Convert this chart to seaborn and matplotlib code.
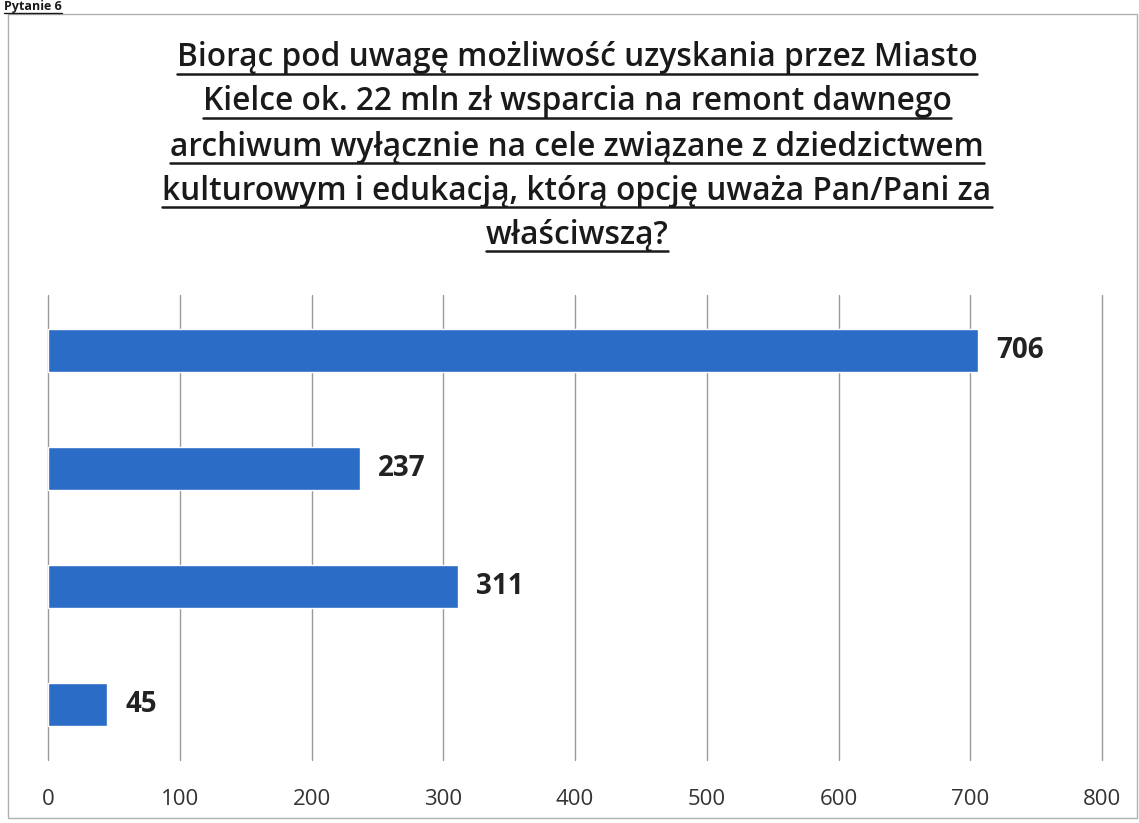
import matplotlib
matplotlib.use("Agg")
import matplotlib.pyplot as plt
import seaborn as sns
import pandas as pd
from matplotlib.lines import Line2D
from matplotlib.patches import Rectangle

categories = ["Opcja A", "Opcja B", "Opcja C", "Opcja D"]
values = [706, 237, 311, 45]
x_ticks = [0, 100, 200, 300, 400, 500, 600, 700, 800]
title_lines = [
    "Biorąc pod uwagę możliwość uzyskania przez Miasto",
    "Kielce ok. 22 mln zł wsparcia na remont dawnego",
    "archiwum wyłącznie na cele związane z dziedzictwem",
    "kulturowym i edukacją, którą opcję uważa Pan/Pani za",
    "właściwszą?",
]
header = "Pytanie 6"

sns.set_theme(style="white")
plt.rcParams["font.family"] = ["Open Sans", "DejaVu Sans"]

W, H = 1139, 823
fig = plt.figure(figsize=(W / 100, H / 100), dpi=100)
fig.patch.set_facecolor("white")

ax = fig.add_axes([48 / W, 1 - 760 / H, (1102 - 48) / W, (760 - 295) / H])
df = pd.DataFrame({"cat": categories, "val": values})
sns.barplot(data=df, y="cat", x="val", orient="h", color="#2b6cc6",
            width=0.37, ax=ax, saturation=1)
ax.set_xlim(0, 800)
ax.set_ylim(3.47, -0.47)
ax.set_xticks(x_ticks)
ax.set_xticklabels([str(t) for t in x_ticks], fontsize=16, color="#333333")
ax.set_yticks([])
ax.set_xlabel("")
ax.set_ylabel("")
ax.tick_params(axis="x", length=0, pad=21)
ax.xaxis.grid(True, color="#9a9a9a", linewidth=1.0)
for gl in ax.get_xgridlines():
    gl.set_clip_on(False)
ax.set_axisbelow(True)
for s in ax.spines.values():
    s.set_visible(False)

for i, v in enumerate(values):
    ax.annotate(str(v), xy=(v, i), xytext=(13, 0), textcoords="offset points",
                va="center", ha="left", fontsize=20, fontweight="bold",
                color="#222222")

# outer border
fig.add_artist(Rectangle((8 / W, 1 - 818 / H), (1137 - 8) / W, (818 - 14) / H,
                         transform=fig.transFigure, fill=False,
                         edgecolor="#b0b0b0", linewidth=1.0))

# title lines
ys = [58, 102, 147, 191, 235]
texts = []
for line, yp in zip(title_lines, ys):
    t = fig.text(577 / W, 1 - yp / H, line, ha="center", va="center",
                 fontsize=22.8, fontweight="semibold", color="#1a1a1a")
    texts.append(t)

hdr = fig.text(4 / W, 1 - 10 / H, header, ha="left", va="baseline",
               fontsize=9, fontweight="bold", color="#1a1a1a")
texts.append(hdr)

fig.canvas.draw()
r = fig.canvas.get_renderer()
inv = fig.transFigure.inverted()
for t in texts:
    bb = t.get_window_extent(renderer=r)
    x0, x1 = bb.x0, bb.x1
    if t is hdr:
        yline = H - 12.5
        lw = 1.0
    else:
        yline = bb.y0 + 1
        lw = 1.8
    (fx0, fy), (fx1, _) = inv.transform([(x0, yline), (x1, yline)])
    fig.add_artist(Line2D([fx0, fx1], [fy, fy], transform=fig.transFigure,
                          color="#1a1a1a", linewidth=lw))

fig.savefig("out.png", dpi=100, facecolor="white")
